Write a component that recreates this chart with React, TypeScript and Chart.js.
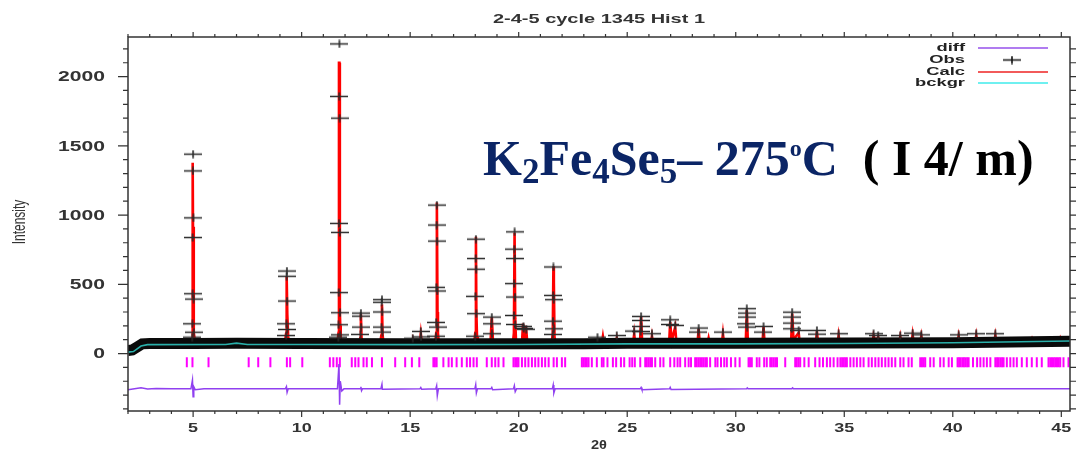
import React, { useEffect, useRef } from "react";
import { Chart, registerables } from "chart.js";

Chart.register(...registerables);

// ---------- text ----------
const plotTitle = "2-4-5 cycle 1345 Hist 1";
const yAxisTitle = "Intensity";
const xAxisTitle = "2\u03B8";
const legendLabels = ["diff", "Obs", "Calc", "bckgr"];

// ---------- axes ----------
const xMin = 2.0;
const xMax = 45.4;
const yMin = -415;
const yMax = 2286;
const xTickLabels = [5, 10, 15, 20, 25, 30, 35, 40, 45];
const yTickLabels = [0, 500, 1000, 1500, 2000];

// ---------- observed: band of points along the background ----------
const obsBandX = [2.0, 2.2, 2.45, 2.65, 3.0, 5.0, 7.0, 10.0, 15.0, 20.0, 23.0, 25.0, 30.0, 35.0, 40.0, 45.4];
const obsBandY = [22, 26, 50, 70, 72, 73, 75, 72, 70, 70, 70, 74, 74, 76, 78, 88];

// ---------- observed: points on the peaks ----------
const obsPeakX = [
  5.0, 4.99, 5.01, 4.98, 4.98, 5.02, 4.97, 5.03, 4.96,
  9.32, 9.31, 9.33, 9.3, 9.34, 9.29,
  11.74, 11.73, 11.75, 11.72, 11.76, 11.71, 11.77, 11.7, 11.78, 11.69,
  12.73, 12.72, 12.74, 12.71,
  13.7, 13.69, 13.71, 13.68, 13.72,
  15.12, 15.49, 15.5,
  16.23, 16.22, 16.24, 16.21, 16.25, 16.2, 16.26, 16.19,
  18.03, 18.02, 18.04, 18.01, 18.05, 18.0,
  18.76, 18.75, 18.77,
  19.81, 19.8, 19.82, 19.79, 19.83, 19.78, 19.84,
  20.22, 20.23, 20.35,
  21.6, 21.59, 21.61, 21.58, 21.62, 21.57,
  23.63, 24.52, 25.32, 25.64, 25.63, 25.65, 25.62, 26.14,
  26.98, 26.97, 27.21, 28.29, 28.28, 29.41,
  30.51, 30.5, 30.52, 30.49, 30.53, 31.28, 31.27,
  32.6, 32.59, 32.61, 32.58, 32.9, 33.74, 33.73, 34.74,
  36.35, 36.56, 37.58, 38.15, 38.55, 40.27, 41.08, 41.96,
];
const obsPeakY = [
  1440, 1319, 980, 838, 432, 393, 215, 154, 118,
  596, 558, 379, 215, 174, 130,
  2236, 1857, 1700, 940, 875, 440, 295, 208, 135, 118,
  292, 270, 191, 138,
  389, 370, 300, 191, 155,
  110, 160, 120,
  1072, 928, 812, 478, 452, 225, 191, 125,
  826, 686, 609, 413, 288, 125,
  263, 215, 143,
  879, 754, 686, 505, 408, 275, 210,
  196, 181, 175,
  625, 420, 389, 234, 179, 138,
  118, 130, 162, 268, 239, 196, 159, 143,
  244, 210, 203, 184, 155, 155,
  324, 292, 263, 215, 191, 196, 155,
  299, 263, 220, 179, 167, 167, 140, 143,
  143, 130, 130, 147, 135, 135, 143, 143,
];

// ---------- calculated profile ----------
const calcX = [
  2.0, 2.2, 2.6, 2.8, 4.9, 4.95, 4.97, 4.99, 5.01, 5.02, 5.04, 5.1,
  9.22, 9.28, 9.3, 9.32, 9.34, 9.38, 9.42,
  11.64, 11.7, 11.72, 11.74, 11.76, 11.78, 11.8, 11.85,
  12.65, 12.7, 12.73, 12.76, 12.8,
  13.62, 13.67, 13.7, 13.73, 13.78,
  15.08, 15.12, 15.16, 15.44, 15.49, 15.54,
  16.15, 16.2, 16.23, 16.26, 16.28, 16.32,
  17.95, 18.0, 18.03, 18.05, 18.08, 18.12,
  18.7, 18.76, 18.82,
  19.73, 19.78, 19.81, 19.84, 19.88,
  20.15, 20.2, 20.25, 20.33, 20.4,
  21.52, 21.57, 21.6, 21.62, 21.65, 21.7,
  23.58, 23.63, 23.68, 23.83, 23.88, 23.93,
  24.47, 24.52, 24.57,
  25.27, 25.32, 25.37, 25.59, 25.64, 25.69,
  26.09, 26.14, 26.19,
  26.93, 26.98, 27.05, 27.21, 27.27,
  28.24, 28.29, 28.34, 28.7, 28.75, 28.8,
  29.36, 29.41, 29.46,
  30.46, 30.51, 30.56,
  31.23, 31.28, 31.33,
  32.55, 32.6, 32.66, 32.9, 32.95,
  33.69, 33.74, 33.79,
  34.69, 34.74, 34.79,
  36.3, 36.35, 36.45, 36.56, 36.62,
  37.53, 37.58, 37.63,
  38.1, 38.15, 38.2, 38.5, 38.55, 38.6,
  40.22, 40.27, 40.32,
  41.03, 41.08, 41.13,
  41.91, 41.96, 42.01,
  43.6, 43.65, 43.7,
  44.9, 44.95, 45.0, 45.4,
];
const calcY = [
  22, 25, 68, 72, 72, 100, 420, 1378, 420, 915, 150, 72,
  72, 140, 304, 558, 280, 120, 72,
  72, 150, 2100, 2100, 300, 203, 100, 72,
  72, 110, 283, 110, 72,
  72, 130, 355, 130, 72,
  72, 100, 72, 72, 143, 72,
  72, 150, 1090, 300, 150, 72,
  72, 150, 843, 299, 120, 72,
  72, 263, 72,
  72, 150, 872, 250, 72,
  72, 217, 90, 200, 72,
  72, 150, 630, 517, 120, 72,
  72, 94, 72, 72, 123, 72,
  72, 110, 72,
  72, 140, 72, 72, 268, 72,
  72, 125, 72,
  72, 227, 90, 191, 72,
  72, 179, 72, 72, 110, 72,
  72, 143, 72,
  72, 312, 72,
  72, 191, 72,
  72, 288, 100, 150, 72,
  72, 160, 72,
  72, 130, 72,
  75, 130, 80, 120, 75,
  75, 120, 75,
  76, 135, 76, 76, 125, 76,
  78, 125, 78,
  80, 130, 80,
  80, 130, 80,
  84, 105, 84,
  88, 110, 88, 90,
];

// ---------- background ----------
const bckgrX = [2.0, 2.25, 2.6, 2.9, 6.5, 7.0, 7.5, 10.0, 15.0, 20.0, 25.0, 30.0, 35.0, 40.0, 45.4];
const bckgrY = [10, 14, 54, 64, 65, 75, 65, 65, 64, 65, 70, 70, 72, 78, 90];

// ---------- difference curve ----------
const diffX = [
  2.0, 2.3, 2.6, 2.9, 3.3, 4.0, 4.9, 4.97, 5.0, 5.03, 5.1, 5.5,
  9.25, 9.3, 9.33, 9.38,
  11.65, 11.72, 11.75, 11.78, 11.85, 11.95,
  12.7, 12.73, 12.76, 12.8,
  13.65, 13.7, 13.72,
  15.45, 15.49, 15.53,
  16.18, 16.22, 16.25, 16.3,
  17.98, 18.02, 18.05, 18.1,
  18.72, 18.76, 18.8,
  19.76, 19.8, 19.84, 19.9,
  21.55, 21.59, 21.62, 21.68,
  25.6, 25.64, 25.68,
  26.95, 26.98, 27.02,
  30.5, 30.53, 30.57,
  32.58, 32.62, 32.66,
  45.4,
];
const diffY = [
  -262, -255, -248, -256, -252, -255, -255, -191, -312, -240, -262, -255,
  -255, -239, -280, -255,
  -255, -75, -370, -200, -270, -255,
  -255, -240, -268, -255,
  -255, -222, -258,
  -255, -245, -258,
  -255, -232, -304, -255,
  -255, -225, -285, -255,
  -255, -245, -262,
  -255, -232, -275, -255,
  -255, -227, -285, -255,
  -255, -245, -262,
  -255, -245, -260,
  -255, -248, -255,
  -255, -248, -255,
  -255,
];

// ---------- reflection positions ----------
const reflectionLevel = -63;
const reflections = [
  4.71, 4.97, 5.71, 7.56, 8.0, 8.56, 9.32, 9.47, 10.03,
  11.3, 11.46, 11.62, 11.76, 12.31, 12.47, 12.62, 12.85, 13.0, 13.24, 13.7,
  14.31, 14.77, 15.08, 15.42, 16.07, 16.14, 16.22, 16.53, 16.77, 16.92,
  17.14, 17.38, 17.61, 17.76, 17.92, 18.07, 18.53, 18.76, 18.92, 19.07, 19.3,
  19.76, 19.84, 19.92, 19.99, 20.15, 20.3, 20.45, 20.61, 20.76, 20.91, 21.07,
  21.22, 21.38, 21.61, 21.76, 21.99, 22.14,
  22.91, 22.98, 23.06, 23.14, 23.22, 23.37, 23.6, 23.83, 23.91, 24.09, 24.34,
  24.49, 24.71, 24.86, 25.11, 25.23, 25.35, 25.6, 25.83, 25.9, 25.98, 26.06,
  26.14, 26.29, 26.52, 26.67, 26.98, 27.17, 27.32, 27.44, 27.67, 27.83, 27.94,
  28.13, 28.2, 28.28, 28.36, 28.44, 28.52, 28.6, 28.67, 28.82, 29.06, 29.16,
  29.32, 29.47, 29.59, 29.78, 29.98, 30.18, 30.59, 30.66, 30.74, 30.97, 31.09,
  31.31, 31.43, 31.59, 31.66, 31.74, 31.82, 31.9, 32.28, 32.74, 32.81, 32.89,
  32.97, 33.16, 33.36, 33.66, 33.86, 34.02, 34.2, 34.35, 34.51, 34.69, 34.82,
  34.9, 34.98, 35.05, 35.12, 35.28, 35.43, 35.58, 35.74, 35.89, 36.12, 36.27,
  36.43, 36.58, 36.73, 36.89, 37.04, 37.19, 37.35, 37.58, 37.73, 37.96, 38.11,
  38.5, 38.58, 38.66, 38.73, 38.96, 39.12, 39.42, 39.58, 39.81, 39.96, 40.22,
  40.29, 40.36, 40.44, 40.51, 40.58, 40.66, 40.73, 40.93, 41.12, 41.27, 41.42,
  41.57, 41.73, 41.96, 42.04, 42.11, 42.19, 42.27, 42.34, 42.49, 42.65, 42.8,
  42.95, 43.18, 43.41, 43.64, 43.87, 44.1, 44.41, 44.49, 44.57, 44.65, 44.72,
  44.8, 44.88, 44.95, 45.1, 45.33,
];

// ---------- annotation ----------
const annotationParts = [
  { text: "K", kind: "main", color: "#0b2566" },
  { text: "2", kind: "sub", color: "#0b2566" },
  { text: "Fe", kind: "main", color: "#0b2566" },
  { text: "4", kind: "sub", color: "#0b2566" },
  { text: "Se", kind: "main", color: "#0b2566" },
  { text: "5", kind: "sub", color: "#0b2566" },
  { text: "\u2013 275", kind: "main", color: "#0b2566" },
  { text: "o", kind: "sup", color: "#0b2566" },
  { text: "C", kind: "main", color: "#0b2566" },
  { text: "  ( I 4/ m)", kind: "main", color: "#000000" },
];

const pairs = (xs: number[], ys: number[]) => xs.map((x, i) => ({ x, y: ys[i] }));

function makePlus(color: string) {
  const c = document.createElement("canvas");
  c.width = 18;
  c.height = 9;
  const g = c.getContext("2d")!;
  g.strokeStyle = color;
  g.lineWidth = 1.6;
  g.beginPath();
  g.moveTo(0, 4.5);
  g.lineTo(18, 4.5);
  g.moveTo(9, 0.5);
  g.lineTo(9, 8.5);
  g.stroke();
  return c;
}

function stretched(
  ctx: CanvasRenderingContext2D,
  text: string,
  x: number,
  y: number,
  font: string,
  color: string,
  align: CanvasTextAlign,
  sx: number
) {
  ctx.save();
  ctx.font = font;
  ctx.fillStyle = color;
  ctx.textBaseline = "middle";
  ctx.textAlign = align;
  ctx.translate(x, y);
  ctx.scale(sx, 1);
  ctx.fillText(text, 0, 0);
  ctx.restore();
}

function scaleFor(ctx: CanvasRenderingContext2D, font: string, sample: string, target: number) {
  ctx.save();
  ctx.font = font;
  const w = ctx.measureText(sample).width;
  ctx.restore();
  return target / w;
}

const gsasPlugin = {
  id: "gsasDecor",
  afterDraw(chart: any) {
    const ctx: CanvasRenderingContext2D = chart.ctx;
    const a = chart.chartArea;
    const xs = chart.scales.x;
    const ys = chart.scales.y;
    const ink = "#333333";
    ctx.save();

    // frame
    ctx.strokeStyle = ink;
    ctx.lineWidth = 1.5;
    ctx.strokeRect(a.left, a.top, a.right - a.left, a.bottom - a.top);

    // ticks (outside on all four sides)
    ctx.lineWidth = 1.2;
    ctx.beginPath();
    for (let v = Math.ceil(xs.min); v <= xs.max; v++) {
      const px = xs.getPixelForValue(v);
      const major = v % 5 === 0;
      ctx.moveTo(px, a.bottom);
      ctx.lineTo(px, a.bottom + (major ? 6 : 3));
      ctx.moveTo(px, a.top);
      ctx.lineTo(px, a.top - (major ? 5 : 3));
    }
    for (let v = Math.ceil(ys.min / 100) * 100; v <= ys.max; v += 100) {
      const py = ys.getPixelForValue(v);
      const major = v % 500 === 0;
      ctx.moveTo(a.left, py);
      ctx.lineTo(a.left - (major ? 10 : 5), py);
      ctx.moveTo(a.right, py);
      ctx.lineTo(a.right + 6, py);
    }
    ctx.stroke();

    // tick labels
    const yFont = 'bold 14px "Liberation Sans"';
    const ySx = scaleFor(ctx, yFont, "2000", 47);
    yTickLabels.forEach((v) => {
      stretched(ctx, String(v), a.left - 23, ys.getPixelForValue(v) + 1, yFont, ink, "right", ySx);
    });
    const xFont = 'bold 13px "Liberation Sans"';
    const xSx = scaleFor(ctx, xFont, "10", 20);
    xTickLabels.forEach((v) => {
      stretched(ctx, String(v), xs.getPixelForValue(v), a.bottom + 17, xFont, ink, "center", xSx);
    });

    // title
    const tFont = 'bold 12px "Liberation Sans"';
    stretched(ctx, plotTitle, (a.left + a.right) / 2, 20, tFont, ink, "center", scaleFor(ctx, tFont, plotTitle, 212));

    // x axis title
    const axFont = 'bold 12px "Liberation Sans"';
    stretched(ctx, xAxisTitle, (a.left + a.right) / 2, 446, axFont, ink, "center", scaleFor(ctx, axFont, xAxisTitle, 16));

    // y axis title (rotated)
    ctx.save();
    ctx.translate(20, 222);
    ctx.rotate(-Math.PI / 2);
    ctx.scale(1, 1.6);
    ctx.font = '12px "Liberation Sans"';
    ctx.fillStyle = ink;
    ctx.textAlign = "center";
    ctx.textBaseline = "middle";
    ctx.fillText(yAxisTitle, 0, 0);
    ctx.restore();

    // legend
    const lFont = 'bold 11px "Liberation Sans"';
    const lSx = scaleFor(ctx, lFont, "bckgr", 50);
    const legendColors = ["#b07cf0", "#000000", "#f25a5a", "#6ff0f0"];
    const legendY = [48, 60, 72, 83];
    legendLabels.forEach((lab, i) => {
      stretched(ctx, lab, 965, legendY[i], lFont, "#222222", "right", lSx);
      if (lab === "Obs") {
        ctx.drawImage(makePlus("#111111"), 1003, legendY[i] - 4.5);
      } else {
        ctx.strokeStyle = legendColors[i];
        ctx.lineWidth = 2;
        ctx.beginPath();
        ctx.moveTo(978, legendY[i]);
        ctx.lineTo(1048, legendY[i]);
        ctx.stroke();
      }
    });

    // annotation
    let cx = 483;
    const base = 175;
    ctx.textAlign = "left";
    ctx.textBaseline = "alphabetic";
    annotationParts.forEach((p) => {
      let font = 'bold 50px "Liberation Serif"';
      let dy = 0;
      if (p.kind === "sub") {
        font = 'bold 35px "Liberation Serif"';
        dy = 8;
      } else if (p.kind === "sup") {
        font = 'bold 24px "Liberation Serif"';
        dy = -19;
      }
      ctx.font = font;
      ctx.fillStyle = p.color;
      ctx.fillText(p.text, cx, base + dy);
      cx += ctx.measureText(p.text).width;
    });

    ctx.restore();
  },
};

export default function App() {
  const ref = useRef<HTMLCanvasElement | null>(null);

  useEffect(() => {
    document.body.style.margin = "0";
    const canvas = ref.current;
    if (!canvas) return;
    const plus = makePlus("#2a2a2a");
    const chart = new Chart(canvas, {
      type: "line",
      data: {
        datasets: [
          {
            label: "Obs",
            data: pairs(obsPeakX, obsPeakY),
            showLine: false,
            pointStyle: plus as any,
            pointRadius: 3,
          },
          {
            label: "bckgr",
            data: pairs(bckgrX, bckgrY),
            borderColor: "#2ab0aa",
            borderWidth: 1.6,
            pointRadius: 0,
            tension: 0,
          },
          {
            label: "Obs band",
            data: pairs(obsBandX, obsBandY),
            borderColor: "#0a0a0a",
            borderWidth: 11,
            pointRadius: 0,
            tension: 0,
          },
          {
            label: "Calc",
            data: pairs(calcX, calcY),
            borderColor: "#ff0000",
            borderWidth: 2.6,
            pointRadius: 0,
            tension: 0,
          },
          {
            label: "diff",
            data: pairs(diffX, diffY),
            borderColor: "#9040f0",
            borderWidth: 1.5,
            pointRadius: 0,
            tension: 0,
          },
          {
            label: "reflections",
            data: reflections.map((x) => ({ x, y: reflectionLevel })),
            showLine: false,
            pointStyle: "line",
            rotation: 90,
            pointRadius: 5,
            pointBorderWidth: 2,
            pointBorderColor: "#ff00ff",
            borderColor: "#ff00ff",
          } as any,
        ],
      },
      options: {
        responsive: false,
        animation: false,
        layout: { padding: { top: 37, right: 8, left: 0, bottom: 0 } },
        plugins: {
          legend: { display: false },
          title: { display: false },
          tooltip: { enabled: false },
        },
        scales: {
          x: {
            type: "linear",
            min: xMin,
            max: xMax,
            grid: { display: false },
            border: { display: false },
            ticks: { display: false },
            afterFit: (s: any) => {
              s.height = 42;
            },
          },
          y: {
            type: "linear",
            min: yMin,
            max: yMax,
            grid: { display: false },
            border: { display: false },
            ticks: { display: false },
            afterFit: (s: any) => {
              s.width = 128;
            },
          },
        },
      },
      plugins: [gsasPlugin],
    } as any);
    return () => chart.destroy();
  }, []);

  return (
    <canvas
      ref={ref}
      width={1078}
      height={453}
      style={{ display: "block", width: 1078, height: 453 }}
    />
  );
}
